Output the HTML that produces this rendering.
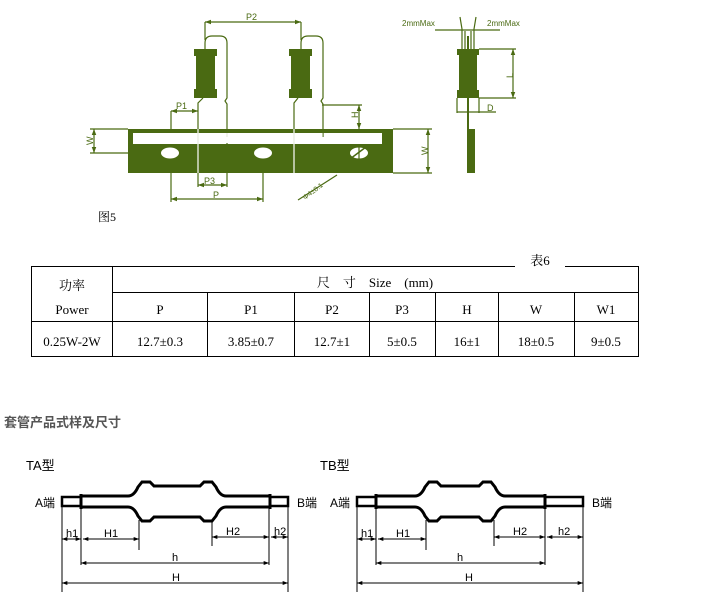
<!DOCTYPE html>
<html><head><meta charset="utf-8"><style>
body{margin:0;background:#fff;width:701px;height:609px;overflow:hidden;position:relative;font-family:"Liberation Serif","Noto Serif CJK SC",serif}
svg{position:absolute;left:0;top:0}
</style></head><body>
<svg width="701" height="609" viewBox="0 0 701 609" xmlns="http://www.w3.org/2000/svg">
<defs>
<marker id="a" viewBox="0 0 8 6" refX="8" refY="3" markerWidth="6" markerHeight="4" orient="auto-start-reverse"><path d="M0,0L8,3L0,6z" fill="#000"/></marker>
<marker id="g" viewBox="0 0 8 6" refX="8" refY="3" markerWidth="5" markerHeight="4" orient="auto-start-reverse"><path d="M0,0L8,3L0,6z" fill="#4a6a12"/></marker>
</defs>
<!-- top figure -->
<g stroke="#4a6a12" fill="none" stroke-width="1.2">
<rect x="128" y="129" width="265" height="44" fill="#4a6a12" stroke="none"/>
<rect x="133" y="133" width="249" height="11" fill="#fff" stroke="none"/>
<ellipse cx="170" cy="153" rx="9" ry="5.5" fill="#fff" stroke="none"/>
<ellipse cx="263" cy="153" rx="9" ry="5.5" fill="#fff" stroke="none"/>
<ellipse cx="359" cy="153" rx="9" ry="5.5" fill="#fff" stroke="none"/>
<line x1="350" y1="159" x2="366" y2="147" stroke="#4a6a12" stroke-width="1.5"/>
<line x1="359" y1="147" x2="359" y2="160" stroke="#4a6a12"/>
<!-- resistors -->
<path d="M194,49h23v7h-2v33h2v9h-23v-9h2v-33h-2z" fill="#4a6a12" stroke="none"/>
<path d="M289,49h23v7h-2v33h2v9h-23v-9h2v-33h-2z" fill="#4a6a12" stroke="none"/>
<!-- leads -->
<path d="M205,49v-6q0,-7 7,-7h8q7,0 7,7v55l-2,3 2,3v33"/>
<path d="M301,49v-6q0,-7 7,-7h8q7,0 7,7v55l-2,3 2,3v33"/>
<path d="M203,98l-5,5v70" />
<path d="M298,98l-4,5v70"/>
<line x1="198" y1="129" x2="198" y2="173" stroke="#fff"/>
<line x1="294" y1="129" x2="294" y2="173" stroke="#fff"/>
<line x1="227" y1="133" x2="227" y2="143" stroke="#fff"/>
<line x1="322" y1="133" x2="322" y2="143" stroke="#fff"/>
<!-- dims -->
<line x1="205" y1="22" x2="301" y2="22" marker-start="url(#g)" marker-end="url(#g)"/>
<line x1="205" y1="22" x2="205" y2="40"/><line x1="301" y1="22" x2="301" y2="40"/>
<line x1="171" y1="111" x2="198" y2="111" marker-start="url(#g)" marker-end="url(#g)"/>
<line x1="171" y1="111" x2="171" y2="129"/>
<line x1="322" y1="105" x2="362" y2="105"/>
<line x1="359" y1="105" x2="359" y2="129" marker-start="url(#g)" marker-end="url(#g)"/>
<line x1="90" y1="129" x2="128" y2="129"/><line x1="90" y1="153" x2="128" y2="153"/>
<line x1="94" y1="129" x2="94" y2="153" marker-start="url(#g)" marker-end="url(#g)"/>
<line x1="393" y1="129" x2="432" y2="129"/><line x1="393" y1="173" x2="432" y2="173"/>
<line x1="428" y1="129" x2="428" y2="173" marker-start="url(#g)" marker-end="url(#g)"/>
<line x1="198" y1="173" x2="198" y2="187"/><line x1="227" y1="143" x2="227" y2="187"/>
<line x1="198" y1="185" x2="227" y2="185" marker-start="url(#g)" marker-end="url(#g)"/>
<line x1="171" y1="173" x2="171" y2="202"/><line x1="263" y1="173" x2="263" y2="202"/>
<line x1="171" y1="199" x2="263" y2="199" marker-start="url(#g)" marker-end="url(#g)"/>
<line x1="298" y1="200" x2="337" y2="175"/>
<!-- side view -->
<path d="M457,49h22v6h-2v35h2v8h-22v-8h2v-35h-2z" fill="#4a6a12" stroke="none"/>
<line x1="468" y1="36" x2="468" y2="173" stroke-width="2"/>
<rect x="468" y="129" width="7" height="44" fill="#4a6a12" stroke="none"/>
<path d="M462,49v-20l-2,-12M474,49v-20l2,-12M465,49v-18M471,49v-18"/>
<line x1="435" y1="30" x2="500" y2="30"/>
<line x1="479" y1="49" x2="516" y2="49"/><line x1="479" y1="98" x2="516" y2="98"/>
<line x1="513" y1="49" x2="513" y2="98" marker-start="url(#g)" marker-end="url(#g)"/>
<line x1="457" y1="98" x2="457" y2="113"/><line x1="479" y1="98" x2="479" y2="113"/>
<line x1="457" y1="112" x2="496" y2="112"/>
</g>
<g fill="#4a6a12" font-family="Liberation Sans,sans-serif" font-size="9">
<text x="246" y="20">P2</text><text x="176" y="109">P1</text>
<text x="354" y="122" transform="rotate(-90 354 118)">H</text>
<text x="86" y="144" transform="rotate(-90 90 141)">W</text>
<text x="420" y="155" transform="rotate(-90 424 151)">W</text>
<text x="204" y="184">P3</text><text x="213" y="198">P</text>
<text x="305" y="200" transform="rotate(-37 305 200)" font-size="7">Φ4±0.1</text>
<text x="402" y="26" font-size="8">2mmMax</text><text x="487" y="26" font-size="8">2mmMax</text>
<text x="505" y="78" transform="rotate(-90 509 74)">L</text>
<text x="487" y="111">D</text>
</g>
<text x="98" y="221" font-size="12" fill="#000" font-family="Liberation Serif,'Noto Serif CJK SC',serif">图5</text>
<!-- table -->
<g stroke="#000" stroke-width="1" fill="none">
<line x1="31" y1="266.5" x2="515" y2="266.5"/><line x1="565" y1="266.5" x2="639" y2="266.5"/>
<line x1="31.5" y1="266" x2="31.5" y2="357"/><line x1="638.5" y1="266" x2="638.5" y2="357"/>
<line x1="31" y1="356.5" x2="639" y2="356.5"/>
<line x1="112.5" y1="266" x2="112.5" y2="357"/>
<line x1="112" y1="292.5" x2="639" y2="292.5"/>
<line x1="31" y1="321.5" x2="639" y2="321.5"/>
<line x1="207.5" y1="292" x2="207.5" y2="357"/><line x1="294.5" y1="292" x2="294.5" y2="357"/>
<line x1="369.5" y1="292" x2="369.5" y2="357"/><line x1="435.5" y1="292" x2="435.5" y2="357"/>
<line x1="498.5" y1="292" x2="498.5" y2="357"/><line x1="574.5" y1="292" x2="574.5" y2="357"/>
</g>
<g font-size="13" fill="#000" text-anchor="middle">
<text x="540" y="265">表6</text>
<text x="72" y="290">功率</text><text x="72" y="314">Power</text>
<text x="375" y="287">尺　寸　Size　(mm)</text>
<text x="160" y="314">P</text><text x="251" y="314">P1</text><text x="332" y="314">P2</text>
<text x="402" y="314">P3</text><text x="467" y="314">H</text><text x="536" y="314">W</text><text x="606" y="314">W1</text>
<text x="72" y="346">0.25W-2W</text><text x="160" y="346">12.7±0.3</text><text x="251" y="346">3.85±0.7</text>
<text x="332" y="346">12.7±1</text><text x="402" y="346">5±0.5</text><text x="467" y="346">16±1</text>
<text x="536" y="346">18±0.5</text><text x="606" y="346">9±0.5</text>
</g>
<text x="4" y="427" font-size="13" font-weight="bold" fill="#555" font-family="'Noto Sans CJK SC',sans-serif">套管产品式样及尺寸</text>
<!-- TA -->
<g id="ta">
<g fill="none" stroke="#000" stroke-width="3">
<rect x="62" y="497" width="19" height="9" stroke-width="2.5"/>
<path d="M81,496H128Q134,496 138,487L142,482H150L154,486H200L204,482H212L216,487Q220,496 226,496H270"/>
<path d="M81,507H128Q134,507 138,516L142,521H150L154,517H200L204,521H212L216,516Q220,507 226,507H270"/>
<line x1="81" y1="494" x2="81" y2="509"/>
<line x1="270" y1="494" x2="270" y2="509"/>
<rect x="270" y="497" width="18" height="9" stroke-width="2.5"/>
</g>
<g stroke="#000" stroke-width="1">
<line x1="62" y1="507" x2="62" y2="592"/><line x1="81" y1="507" x2="81" y2="565"/>
<line x1="139" y1="520" x2="139" y2="550"/><line x1="212" y1="520" x2="212" y2="546"/>
<line x1="269" y1="507" x2="269" y2="565"/><line x1="288" y1="507" x2="288" y2="592"/>
<line x1="62" y1="539" x2="81" y2="539" marker-start="url(#a)" marker-end="url(#a)"/>
<line x1="83" y1="539" x2="139" y2="539" marker-start="url(#a)" marker-end="url(#a)"/>
<line x1="212" y1="537" x2="269" y2="537" marker-start="url(#a)" marker-end="url(#a)"/>
<line x1="271" y1="537" x2="288" y2="537" marker-start="url(#a)" marker-end="url(#a)"/>
<line x1="81" y1="563" x2="269" y2="563" marker-start="url(#a)" marker-end="url(#a)"/>
<line x1="62" y1="583" x2="288" y2="583" marker-start="url(#a)" marker-end="url(#a)"/>
</g>
<g font-family="Liberation Sans,'WenQuanYi Zen Hei',sans-serif" font-size="11" fill="#000">
<text x="66" y="537">h1</text><text x="104" y="537">H1</text><text x="226" y="535">H2</text><text x="274" y="535">h2</text>
<text x="172" y="561">h</text><text x="172" y="581">H</text>
<text x="26" y="470" font-size="13">TA型</text>
<text x="35" y="507" font-size="12">A端</text><text x="297" y="507" font-size="12">B端</text>
</g>
</g>
<!-- TB -->
<g transform="translate(295,0)">
<g fill="none" stroke="#000" stroke-width="3">
<rect x="62" y="497" width="19" height="9" stroke-width="2.5"/>
<path d="M81,496H120Q126,496 130,487L134,482H142L146,486H184L188,482H196L200,487Q204,496 210,496H250"/>
<path d="M81,507H120Q126,507 130,516L134,521H142L146,517H184L188,521H196L200,516Q204,507 210,507H250"/>
<line x1="81" y1="494" x2="81" y2="509"/>
<line x1="250" y1="494" x2="250" y2="509"/>
<rect x="250" y="497" width="38" height="9" stroke-width="2.5"/>
</g>
<g stroke="#000" stroke-width="1">
<line x1="62" y1="507" x2="62" y2="592"/><line x1="81" y1="507" x2="81" y2="565"/>
<line x1="131" y1="520" x2="131" y2="550"/><line x1="199" y1="520" x2="199" y2="546"/>
<line x1="250" y1="507" x2="250" y2="565"/><line x1="288" y1="507" x2="288" y2="592"/>
<line x1="62" y1="539" x2="81" y2="539" marker-start="url(#a)" marker-end="url(#a)"/>
<line x1="83" y1="539" x2="131" y2="539" marker-start="url(#a)" marker-end="url(#a)"/>
<line x1="199" y1="537" x2="250" y2="537" marker-start="url(#a)" marker-end="url(#a)"/>
<line x1="252" y1="537" x2="288" y2="537" marker-start="url(#a)" marker-end="url(#a)"/>
<line x1="81" y1="563" x2="250" y2="563" marker-start="url(#a)" marker-end="url(#a)"/>
<line x1="62" y1="583" x2="288" y2="583" marker-start="url(#a)" marker-end="url(#a)"/>
</g>
<g font-family="Liberation Sans,'WenQuanYi Zen Hei',sans-serif" font-size="11" fill="#000">
<text x="66" y="537">h1</text><text x="101" y="537">H1</text><text x="218" y="535">H2</text><text x="263" y="535">h2</text>
<text x="162" y="561">h</text><text x="170" y="581">H</text>
<text x="25" y="470" font-size="13">TB型</text>
<text x="35" y="507" font-size="12">A端</text><text x="297" y="507" font-size="12">B端</text>
</g>
</g>
</svg>
</body></html>
